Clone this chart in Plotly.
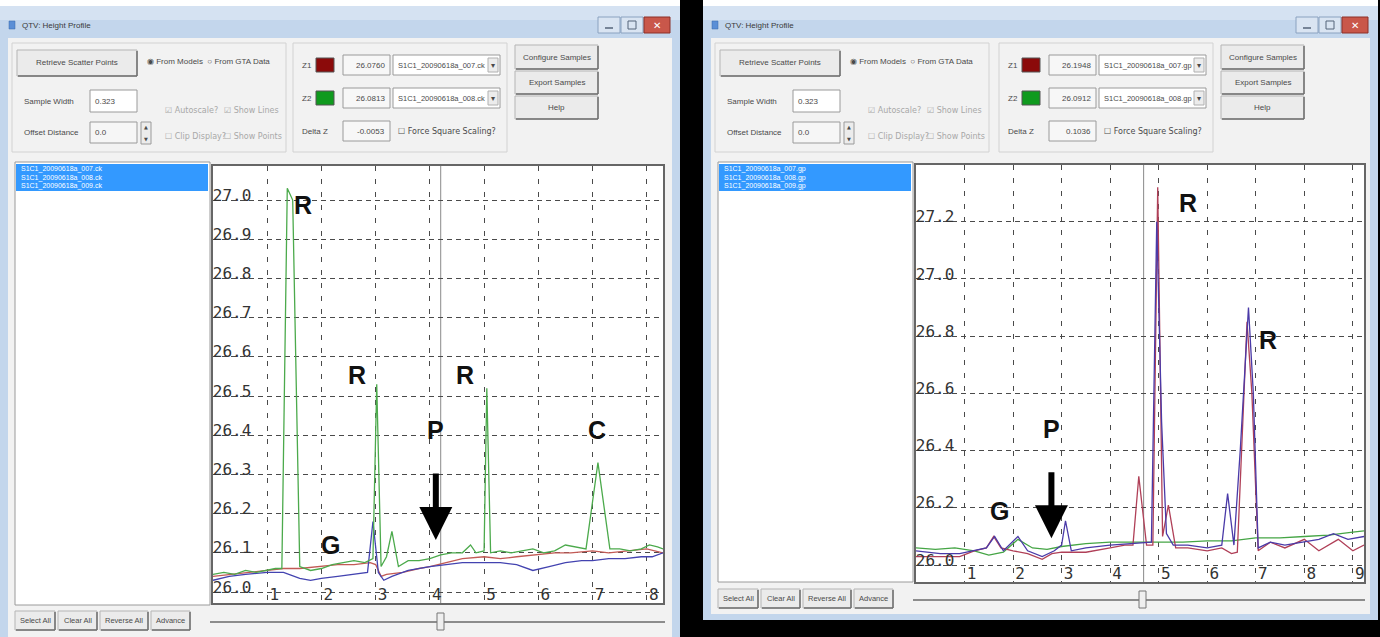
import plotly.graph_objects as go

W, H = 1380, 637

# ---------------- data: left window (QTV Height Profile #1) ----------------
L_X_TICKS = [1, 2, 3, 4, 5, 6, 7, 8]
L_X_LABELS = ["1", "2", "3", "4", "5", "6", "7", "8"]
L_Y_TICKS = [26.0, 26.1, 26.2, 26.3, 26.4, 26.5, 26.6, 26.7, 26.8, 26.9, 27.0]
L_Y_LABELS = ["26.0", "26.1", "26.2", "26.3", "26.4", "26.5", "26.6", "26.7", "26.8", "26.9", "27.0"]
L_X_RANGE = [0, 8.3]
L_Y_RANGE = [25.972, 27.087]

L_GREEN_X = [0, 0.2, 0.4, 0.6, 0.8, 1.0, 1.15, 1.27, 1.37, 1.47, 1.6, 1.8, 2.0, 2.2, 2.4, 2.6, 2.8,
             2.95, 3.02, 3.1, 3.2, 3.3, 3.42, 3.6, 3.8, 4.0, 4.2, 4.4, 4.6, 4.75, 4.85, 5.0, 5.05,
             5.12, 5.3, 5.5, 5.7, 5.9, 6.1, 6.3, 6.5, 6.7, 6.88, 7.1, 7.32, 7.5, 7.7, 7.9, 8.05,
             8.2, 8.3]
L_GREEN_Y = [26.045, 26.05, 26.045, 26.055, 26.05, 26.055, 26.06, 26.06, 27.03, 27.0, 26.065,
             26.055, 26.06, 26.07, 26.075, 26.08, 26.075, 26.085, 26.53, 26.065, 26.09, 26.155,
             26.065, 26.08, 26.08, 26.085, 26.095, 26.1, 26.1, 26.12, 26.1, 26.105, 26.52, 26.1,
             26.105, 26.1, 26.105, 26.11, 26.1, 26.105, 26.12, 26.115, 26.11, 26.33, 26.11, 26.11,
             26.105, 26.11, 26.12, 26.115, 26.11]
L_RED_X = [0, 0.3, 0.6, 1.0, 1.3, 1.6, 2.0, 2.3, 2.6, 2.9, 3.0, 3.1, 3.2, 3.5, 3.8, 4.0, 4.3, 4.6,
           5.0, 5.3, 5.6, 6.0, 6.3, 6.6, 7.0, 7.3, 7.6, 8.0, 8.3]
L_RED_Y = [26.04, 26.045, 26.05, 26.055, 26.06, 26.06, 26.065, 26.07, 26.07, 26.075, 26.07, 26.04,
           26.045, 26.05, 26.06, 26.065, 26.075, 26.085, 26.09, 26.085, 26.09, 26.095, 26.1, 26.1,
           26.105, 26.1, 26.105, 26.11, 26.1]
L_BLUE_X = [0, 0.3, 0.6, 1.0, 1.3, 1.6, 1.8, 2.0, 2.3, 2.6, 2.85, 2.95, 3.05, 3.15, 3.3, 3.6, 4.0,
            4.3, 4.6, 5.0, 5.3, 5.6, 5.9, 6.2, 6.5, 6.8, 7.0, 7.3, 7.6, 7.9, 8.1, 8.3]
L_BLUE_Y = [26.03, 26.04, 26.045, 26.05, 26.05, 26.035, 26.03, 26.035, 26.04, 26.045, 26.05, 26.18,
            26.05, 26.03, 26.04, 26.055, 26.065, 26.07, 26.075, 26.075, 26.075, 26.07, 26.055,
            26.065, 26.075, 26.08, 26.08, 26.085, 26.085, 26.09, 26.09, 26.1]
L_CURSOR = 4.2
L_MARKS = ["R", "R", "R", "P", "C", "G"]
L_MARK_X = [1.66, 2.66, 4.65, 4.11, 7.08, 2.16]
L_MARK_Y = [26.987, 26.554, 26.554, 26.413, 26.413, 26.12]
L_ARROW = [4.11, 26.306, 26.133]  # x, tail y, tip y

# ---------------- data: right window (QTV Height Profile #2) ----------------
R_X_TICKS = [1, 2, 3, 4, 5, 6, 7, 8, 9]
R_X_LABELS = ["1", "2", "3", "4", "5", "6", "7", "8", "9"]
R_Y_TICKS = [26.0, 26.2, 26.4, 26.6, 26.8, 27.0, 27.2]
R_Y_LABELS = ["26.0", "26.2", "26.4", "26.6", "26.8", "27.0", "27.2"]
R_X_RANGE = [0, 9.23]
R_Y_RANGE = [25.941, 27.398]

R_GREEN_X = [0, 0.4, 0.8, 1.2, 1.5, 1.8, 2.1, 2.4, 2.7, 3.0, 3.5, 4.0, 4.5, 5.0, 5.5, 6.0, 6.5,
             7.0, 7.5, 8.0, 8.5, 9.0, 9.23]
R_GREEN_Y = [26.06, 26.055, 26.06, 26.05, 26.035, 26.045, 26.09, 26.06, 26.055, 26.065, 26.075,
             26.08, 26.08, 26.08, 26.08, 26.085, 26.085, 26.095, 26.095, 26.1, 26.105, 26.115, 26.12]
R_RED_X = [0, 0.5, 0.9, 1.2, 1.45, 1.6, 1.75, 2.0, 2.3, 2.6, 2.8, 3.0, 3.5, 4.0, 4.3, 4.47, 4.59,
           4.75, 4.88, 4.98, 5.08, 5.2, 5.35, 5.6, 6.0, 6.3, 6.5, 6.62, 6.82, 6.92, 7.05, 7.3, 7.6,
           8.0, 8.3, 8.7, 9.0, 9.23]
R_RED_Y = [26.03, 26.03, 26.03, 26.05, 26.06, 26.1, 26.06, 26.05, 26.04, 26.02, 26.04, 26.045,
           26.045, 26.06, 26.07, 26.07, 26.31, 26.07, 26.07, 27.32, 26.1, 26.21, 26.06, 26.06,
           26.05, 26.06, 26.04, 26.045, 26.85, 26.6, 26.05, 26.08, 26.06, 26.09, 26.05, 26.09,
           26.05, 26.07]
R_BLUE_X = [0, 0.5, 0.9, 1.2, 1.45, 1.62, 1.8, 2.1, 2.3, 2.6, 2.85, 3.0, 3.08, 3.2, 3.5, 4.0, 4.5,
            4.85, 4.96, 5.06, 5.16, 5.3, 5.6, 6.0, 6.3, 6.42, 6.55, 6.68, 6.85, 6.95, 7.05, 7.3,
            7.6, 8.0, 8.3, 8.6, 8.9, 9.23]
R_BLUE_Y = [26.05, 26.04, 26.04, 26.05, 26.06, 26.1, 26.05, 26.1, 26.05, 26.03, 26.05, 26.07,
            26.155, 26.05, 26.06, 26.07, 26.075, 26.08, 27.2, 26.5, 26.11, 26.07, 26.07, 26.06,
            26.07, 26.25, 26.07, 26.4, 26.9, 26.6, 26.06, 26.08, 26.07, 26.08, 26.09, 26.11,
            26.09, 26.1]
R_CURSOR = 4.69
R_MARKS = ["R", "R", "P", "G"]
R_MARK_X = [5.60, 7.25, 2.79, 1.72]
R_MARK_Y = [27.266, 26.786, 26.477, 26.188]
R_ARROW = [2.79, 26.33, 26.094]

# UI texts
L_VALUES = ["26.0760", "26.0813", "-0.0053"]
R_VALUES = ["26.1948", "26.0912", "0.1036"]
L_FILES = ["S1C1_20090618a_007.ck", "S1C1_20090618a_008.ck", "S1C1_20090618a_009.ck"]
R_FILES = ["S1C1_20090618a_007.gp", "S1C1_20090618a_008.gp", "S1C1_20090618a_009.gp"]

# ---------------- helpers (window chrome, in pixels) ----------------
shapes = []
annotations = []


def px(x):
    return x / W


def py(y):
    return 1 - y / H


def rect(x0, y0, x1, y1, fill, line=None, lw=1):
    shapes.append(dict(type="rect", xref="paper", yref="paper", layer="below",
                       x0=px(x0), x1=px(x1), y0=py(y1), y1=py(y0), fillcolor=fill,
                       line=dict(color=line if line else "rgba(0,0,0,0)", width=lw if line else 0)))


def seg(x0, y0, x1, y1, color, lw=1):
    shapes.append(dict(type="line", xref="paper", yref="paper", layer="below",
                       x0=px(x0), x1=px(x1), y0=py(y0), y1=py(y1), line=dict(color=color, width=lw)))


def text(x, y, s, size=8, color="#4a4a4a", anchor="left", font="Liberation Sans"):
    annotations.append(dict(xref="paper", yref="paper", x=px(x), y=py(y), text=s, showarrow=False,
                            xanchor=anchor, yanchor="middle",
                            font=dict(family=font, size=size, color=color)))


def button(x0, y0, x1, y1, label, size=8):
    rect(x0, y0, x1, y1, "#ebebeb", "#b5b5b5", 1)
    seg(x0 + 1, y1, x1, y1, "#6e6e6e", 1.5)
    seg(x1, y0 + 1, x1, y1, "#6e6e6e", 1.5)
    text((x0 + x1) / 2, (y0 + y1) / 2, label, size=size, anchor="center")


FRAME = "#c3d6ec"


def window(x0, x1, bottom, client_bottom, dx, dx2, vals, files, list_bottom, btn_y, slider_x, thumb_x):
    rect(x0, 0, x1, bottom, FRAME)
    rect(x0, 0, x1, 6, "#ffffff")
    rect(x0, 6, x1, 20, "#d5e2f2")
    rect(x0 + 8, 38, x1 - 8, client_bottom, "#f2f2f2")
    # title
    rect(x0 + 9, 21, x0 + 15, 29, "#5b8fd6", "#3a6aa8", 0.5)
    text(x0 + 20, 25, "QTV: Height Profile", size=8, color="#3a3a3a")
    # title bar buttons
    bx = x1 - 82
    rect(bx, 17, bx + 22, 33, "#d9e4f2", "#8aa2c0")
    seg(bx + 7, 28, bx + 15, 28, "#55647a", 1.5)
    rect(bx + 23, 17, bx + 45, 33, "#d9e4f2", "#8aa2c0")
    rect(bx + 30, 21, bx + 38, 29, "rgba(0,0,0,0)", "#55647a", 1)
    rect(bx + 46, 17, bx + 72, 33, "#c9574a", "#8c3128")
    text(bx + 59, 25, "✕", size=10, color="#ffffff", anchor="center", font="DejaVu Sans")
    # group 1
    rect(12 + dx, 43, 286 + dx, 152, "rgba(0,0,0,0)", "#d2d2d2")
    button(17 + dx, 50, 137 + dx, 76, "Retrieve Scatter Points")
    text(145 + dx, 62, "◉ From Models  ○ From GTA Data", size=8)
    text(22 + dx, 101, "Sample Width", size=8)
    rect(90 + dx, 90, 137 + dx, 112, "#ffffff", "#9a9a9a")
    text(93 + dx, 101, "0.323", size=8)
    text(22 + dx, 132, "Offset Distance", size=8)
    rect(90 + dx, 122, 137 + dx, 143, "#f6f6f6", "#9a9a9a")
    text(93 + dx, 132, "0.0", size=8)
    rect(141 + dx, 122, 151 + dx, 144, "#ececec", "#9a9a9a")
    text(146 + dx, 127, "▲", size=5, anchor="center", font="DejaVu Sans")
    text(146 + dx, 139, "▼", size=5, anchor="center", font="DejaVu Sans")
    text(163 + dx, 110, "☑ Autoscale?", size=8, color="#a8a8a8", font="DejaVu Sans")
    text(222 + dx, 110, "☑ Show Lines", size=8, color="#a8a8a8", font="DejaVu Sans")
    text(163 + dx, 137, "☐ Clip Display?", size=8, color="#a8a8a8", font="DejaVu Sans")
    text(222 + dx, 137, "☐ Show Points", size=8, color="#a8a8a8", font="DejaVu Sans")
    # group 2
    rect(293 + dx2, 43, 507 + dx2, 152, "rgba(0,0,0,0)", "#d2d2d2")
    rows = [65, 98, 131]
    labels = ["Z1", "Z2", "Delta Z"]
    sw = ["#8b0a0a", "#0f9a1e", None]
    for i in range(3):
        yy = rows[i]
        text(300 + dx2, yy, labels[i], size=8)
        if sw[i]:
            rect(316 + dx2, yy - 7, 334 + dx2, yy + 7, sw[i], "#555555")
        rect(343 + dx2, yy - 10, 390 + dx2, yy + 10, "#f7f7f7", "#9a9a9a")
        text(387 + dx2, yy, vals[i], size=8, anchor="right")
    for i in range(2):
        yy = rows[i]
        rect(393 + dx2, yy - 10, 500 + dx2, yy + 10, "#ffffff", "#9a9a9a")
        text(396 + dx2, yy, files[i], size=7.5)
        rect(488 + dx2, yy - 7, 498 + dx2, yy + 7, "#ececec", "#b0b0b0")
        text(493 + dx2, yy, "▾", size=8, anchor="center", font="DejaVu Sans")
    text(396 + dx2, 131, "☐ Force Square Scaling?", size=8, font="DejaVu Sans")
    # right buttons
    bxx = 515 + dx2
    button(bxx, 45, bxx + 83, 69, "Configure Samples")
    button(bxx, 71, bxx + 83, 94, "Export Samples")
    button(bxx, 96, bxx + 83, 119, "Help")
    # list box
    rect(15 + dx, 162, 210 + dx, list_bottom, "#ffffff", "#9a9a9a")
    rect(16 + dx, 164, 208 + dx, 191, "#3399ff")
    for i in range(3):
        text(19 + dx, 169 + 8.5 * i, files[i], size=7, color="#ffffff")
    # bottom buttons
    b = [(15, 55, "Select All"), (58, 97, "Clear All"), (100, 148, "Reverse All"), (151, 190, "Advance")]
    for a, c, s in b:
        button(a + dx, btn_y, c + dx, btn_y + 19, s, size=7.5)
    # slider
    seg(slider_x[0], btn_y + 11, slider_x[1], btn_y + 11, "#6a6a6a", 1.5)
    rect(thumb_x - 3, btn_y + 2, thumb_x + 4, btn_y + 19, "#efefef", "#777777")


window(0, 680, 637, 637, 0, 0, L_VALUES, L_FILES, 605, 611, (210, 665), 440)
window(703, 1378, 620, 614, 703, 706, R_VALUES, R_FILES, 582, 589, (913, 1365), 1142)

# white plot backgrounds
rect(213, 166, 663, 603, "#ffffff")
rect(916, 165, 1364, 582, "#ffffff")

# ---------------- figure ----------------
fig = go.Figure()

LG, LR, LB = "#4caa4c", "#c25a55", "#4343b0"
RG, RR, RB = "#45a545", "#b04058", "#4a3aa8"

fig.add_trace(go.Scatter(x=L_RED_X, y=L_RED_Y, mode="lines", line=dict(color=LR, width=1.3),
                         xaxis="x", yaxis="y", hoverinfo="skip"))
fig.add_trace(go.Scatter(x=L_BLUE_X, y=L_BLUE_Y, mode="lines", line=dict(color=LB, width=1.3),
                         xaxis="x", yaxis="y", hoverinfo="skip"))
fig.add_trace(go.Scatter(x=L_GREEN_X, y=L_GREEN_Y, mode="lines", line=dict(color=LG, width=1.3),
                         xaxis="x", yaxis="y", hoverinfo="skip"))
fig.add_trace(go.Scatter(x=R_GREEN_X, y=R_GREEN_Y, mode="lines", line=dict(color=RG, width=1.3),
                         xaxis="x2", yaxis="y2", hoverinfo="skip"))
fig.add_trace(go.Scatter(x=R_RED_X, y=R_RED_Y, mode="lines", line=dict(color=RR, width=1.3),
                         xaxis="x2", yaxis="y2", hoverinfo="skip"))
fig.add_trace(go.Scatter(x=R_BLUE_X, y=R_BLUE_Y, mode="lines", line=dict(color=RB, width=1.3),
                         xaxis="x2", yaxis="y2", hoverinfo="skip"))

# cursor lines
for xv, xr, yr in [(L_CURSOR, "x", "y domain"), (R_CURSOR, "x2", "y2 domain")]:
    shapes.append(dict(type="line", xref=xr, yref=yr, x0=xv, x1=xv, y0=0, y1=1,
                       line=dict(color="#8a8a8a", width=1), layer="below"))

# letter marks and arrows
for marks, mx, my, arrow, xr, yr in [(L_MARKS, L_MARK_X, L_MARK_Y, L_ARROW, "x", "y"),
                                      (R_MARKS, R_MARK_X, R_MARK_Y, R_ARROW, "x2", "y2")]:
    for m, xv, yv in zip(marks, mx, my):
        annotations.append(dict(xref=xr, yref=yr, x=xv, y=yv, text="<b>%s</b>" % m, showarrow=False,
                                font=dict(family="Liberation Sans", size=25, color="#111111")))
    annotations.append(dict(xref=xr, yref=yr, x=arrow[0], y=arrow[2], ax=arrow[0], ay=arrow[1],
                            axref=xr, ayref=yr, text="", showarrow=True, arrowhead=2,
                            arrowsize=1.1, arrowwidth=6, arrowcolor="#000000", standoff=0))

tickfont = dict(family="DejaVu Sans Mono", size=16, color="#333333")
common_x = dict(showgrid=True, gridcolor="#4a4a4a", gridwidth=1.3, griddash="5px,8px",
                zeroline=False, ticks="", ticklabelposition="inside", tickfont=tickfont,
                ticklabeloverflow="allow",
                showline=True, linecolor="#666666", linewidth=2, mirror=True, ticklabelshift=7,
                fixedrange=True)
common_y = dict(showgrid=True, gridcolor="#4a4a4a", gridwidth=1.3, griddash="5px,4px",
                zeroline=False, ticks="", ticklabelposition="inside", tickfont=tickfont,
                ticklabeloverflow="allow",
                showline=True, linecolor="#666666", linewidth=2, mirror=True, ticklabelshift=-5,
                fixedrange=True)

fig.update_layout(
    width=W, height=H, margin=dict(l=0, r=0, t=0, b=0),
    paper_bgcolor="#000000", plot_bgcolor="rgba(0,0,0,0)", showlegend=False,
    xaxis=dict(domain=[px(213), px(663)], range=L_X_RANGE, tickvals=L_X_TICKS, ticktext=L_X_LABELS,
               anchor="y", **common_x),
    yaxis=dict(domain=[py(603), py(166)], range=L_Y_RANGE, tickvals=L_Y_TICKS, ticktext=L_Y_LABELS,
               anchor="x", **common_y),
    xaxis2=dict(domain=[px(916), px(1364)], range=R_X_RANGE, tickvals=R_X_TICKS, ticktext=R_X_LABELS,
                anchor="y2", **common_x),
    yaxis2=dict(domain=[py(582), py(165)], range=R_Y_RANGE, tickvals=R_Y_TICKS, ticktext=R_Y_LABELS,
                anchor="x2", **common_y),
    shapes=shapes, annotations=annotations,
)

fig.write_html("out.html", config={"displayModeBar": False},
               post_script="document.body.style.margin='0';document.body.style.overflow='hidden';")
